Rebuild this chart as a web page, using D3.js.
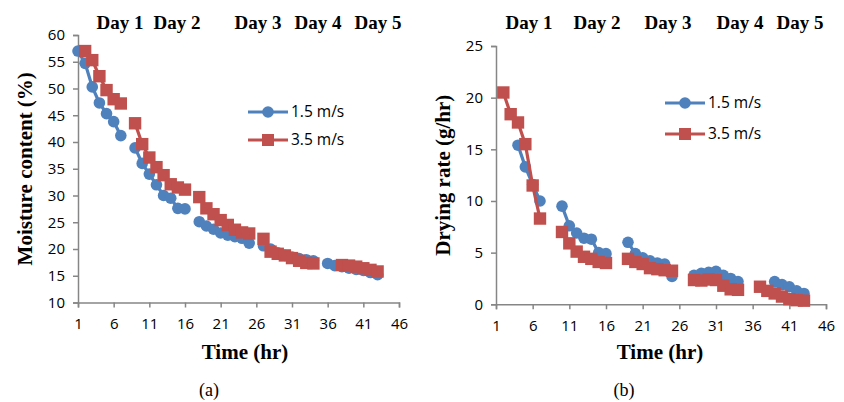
<!DOCTYPE html>
<html>
<head>
<meta charset="utf-8">
<script src="https://cdn.jsdelivr.net/npm/d3@7"></script>
<style>
  body { margin: 0; background: #fff; }
  .axis path, .axis line { stroke: #868686; stroke-width: 1.5; }
  .axis text { font-family: "Open Sans", sans-serif; font-size: 15px; fill: #000; }
  .day { font-family: "Liberation Serif", serif; font-weight: bold; font-size: 19px; }
  .title { font-family: "Liberation Serif", serif; font-weight: bold; font-size: 21px; }
  .caption { font-family: "Liberation Serif", serif; font-size: 18px; }
  .legend text { font-family: "Open Sans", sans-serif; font-size: 15.5px; }
</style>
</head>
<body>
<div id="chart"></div>
<script>
// hour of each reading
const hours = [1,2,3,4,5,6,7,8,9,10,11,12,13,14,15,16,17,18,19,20,21,22,
               23,24,25,26,27,28,29,30,31,32,33,34,35,36,37,38,39,40,41,42,43];

// (a) moisture content (%)
const moisture15 = [57.0,54.7,50.3,47.3,45.3,43.8,41.2,null,38.9,36.0,34.0,32.0,30.0,29.5,27.6,27.5,null,
                    25.1,24.3,23.7,23.0,22.6,22.3,22.0,21.1,null,20.6,20.0,19.3,18.8,18.5,18.2,18.0,17.8,null,
                    17.3,16.9,16.7,16.4,16.2,16.0,15.6,15.2];
const moisture35 = [null,57.0,55.3,52.3,49.7,48.0,47.2,null,43.5,39.6,37.1,35.3,33.8,32.1,31.5,31.1,null,
                    29.7,27.6,26.5,25.4,24.5,23.6,23.1,22.9,null,21.9,19.5,19.1,18.8,18.3,17.8,17.4,17.3,null,
                    null,null,17.0,16.9,16.7,16.4,16.1,15.8];

// (b) drying rate (g/hr)
const rate15 = [null,null,null,15.4,13.3,11.6,10.0,null,null,9.5,7.6,6.9,6.4,6.3,5.0,4.9,null,null,
                6.0,4.9,4.5,4.2,4.0,3.9,2.7,null,null,2.8,3.0,3.1,3.2,2.8,2.5,2.2,null,null,null,null,
                2.2,1.9,1.7,1.3,1.05];
const rate35 = [null,20.5,18.4,17.6,15.5,11.5,8.3,null,null,7.0,5.9,5.1,4.6,4.4,4.1,4.0,null,null,
                4.4,4.1,3.9,3.5,3.4,3.3,3.25,null,null,2.35,2.3,2.4,2.35,1.8,1.45,1.4,null,null,
                1.7,1.3,1.05,0.75,0.5,0.4,0.35];

const seriesNames = ["1.5 m/s", "3.5 m/s"];
const dayLabels = ["Day 1", "Day 2", "Day 3", "Day 4", "Day 5"];
const xTicks = [1,6,11,16,21,26,31,36,41,46];
const moistureTicks = [10,15,20,25,30,35,40,45,50,55,60];
const rateTicks = [0,5,10,15,20,25];

const blue = "#4F81BD", red = "#C0504D";

const svg = d3.select("#chart").append("svg")
    .attr("width", 844)
    .attr("height", 402);

function drawPanel(p) {
  var x = d3.scaleLinear().domain([1, 46]).range([p.left, p.right]);
  var y = d3.scaleLinear().domain(p.yDomain).range([p.bottom, p.top]);

  var g = svg.append("g");

  g.append("g")
      .attr("class", "axis")
      .attr("transform", "translate(0," + p.bottom + ")")
      .call(d3.axisBottom(x).tickValues(xTicks).tickSize(5).tickSizeOuter(5).tickPadding(11));

  g.append("g")
      .attr("class", "axis")
      .attr("transform", "translate(" + p.left + ",0)")
      .call(d3.axisLeft(y).tickValues(p.yTicks).tickSize(5).tickSizeOuter(5).tickPadding(8));

  var line = d3.line()
      .defined(function(d) { return d.v != null; })
      .x(function(d) { return x(d.h); })
      .y(function(d) { return y(d.v); });

  p.series.forEach(function(s, i) {
    var pts = hours.map(function(h, k) { return {h: h, v: s[k]}; });
    var color = i === 0 ? blue : red;
    g.append("path")
        .datum(pts)
        .attr("fill", "none")
        .attr("stroke", color)
        .attr("stroke-width", 3.2)
        .attr("d", line);
    var ok = pts.filter(function(d) { return d.v != null; });
    if (i === 0) {
      g.selectAll(null).data(ok).enter().append("circle")
          .attr("cx", function(d) { return x(d.h); })
          .attr("cy", function(d) { return y(d.v); })
          .attr("r", 5.8)
          .attr("fill", color);
    } else {
      g.selectAll(null).data(ok).enter().append("rect")
          .attr("x", function(d) { return x(d.h) - 6.2; })
          .attr("y", function(d) { return y(d.v) - 6.2; })
          .attr("width", 12.4)
          .attr("height", 12.4)
          .attr("fill", color);
    }
  });

  // legend
  var lg = g.append("g").attr("class", "legend");
  seriesNames.forEach(function(name, i) {
    var ly = p.legendY + i * p.legendGap;
    var color = i === 0 ? blue : red;
    lg.append("line")
        .attr("x1", p.legendX).attr("x2", p.legendX + 40)
        .attr("y1", ly).attr("y2", ly)
        .attr("stroke", color).attr("stroke-width", 3.2);
    if (i === 0) {
      lg.append("circle").attr("cx", p.legendX + 20).attr("cy", ly).attr("r", 5.8).attr("fill", color);
    } else {
      lg.append("rect").attr("x", p.legendX + 14).attr("y", ly - 6).attr("width", 12).attr("height", 12).attr("fill", color);
    }
    lg.append("text")
        .attr("x", p.legendX + 43)
        .attr("y", ly)
        .attr("dy", "0.35em")
        .text(name);
  });

  // day labels
  g.selectAll(null).data(dayLabels).enter().append("text")
      .attr("class", "day")
      .attr("text-anchor", "middle")
      .attr("x", function(d, i) { return p.dayX[i]; })
      .attr("y", 29)
      .text(function(d) { return d; });

  g.append("text")
      .attr("class", "title")
      .attr("text-anchor", "middle")
      .attr("x", p.xTitleX)
      .attr("y", 359)
      .text("Time (hr)");

  g.append("text")
      .attr("class", "title")
      .attr("text-anchor", "middle")
      .attr("transform", "translate(" + p.yTitleX + "," + ((p.top + p.bottom) / 2) + ") rotate(-90)")
      .text(p.yTitle);

  g.append("text")
      .attr("class", "caption")
      .attr("text-anchor", "middle")
      .attr("x", p.captionX)
      .attr("y", 396)
      .text(p.caption);
}

drawPanel({
  left: 78, right: 399, top: 35, bottom: 302.5,
  yDomain: [10, 60], yTicks: moistureTicks,
  series: [moisture15, moisture35],
  legendX: 248, legendY: 112, legendGap: 28,
  dayX: [120, 177, 258, 318, 378],
  xTitleX: 245, yTitleX: 32, yTitle: "Moisture content (%)",
  captionX: 209, caption: "(a)"
});

drawPanel({
  left: 496, right: 826, top: 46, bottom: 304.3,
  yDomain: [0, 25], yTicks: rateTicks,
  series: [rate15, rate35],
  legendX: 665, legendY: 103, legendGap: 31,
  dayX: [529, 597, 668, 740, 800],
  xTitleX: 660, yTitleX: 450, yTitle: "Drying rate (g/hr)",
  captionX: 624, caption: "(b)"
});
</script>
</body>
</html>
